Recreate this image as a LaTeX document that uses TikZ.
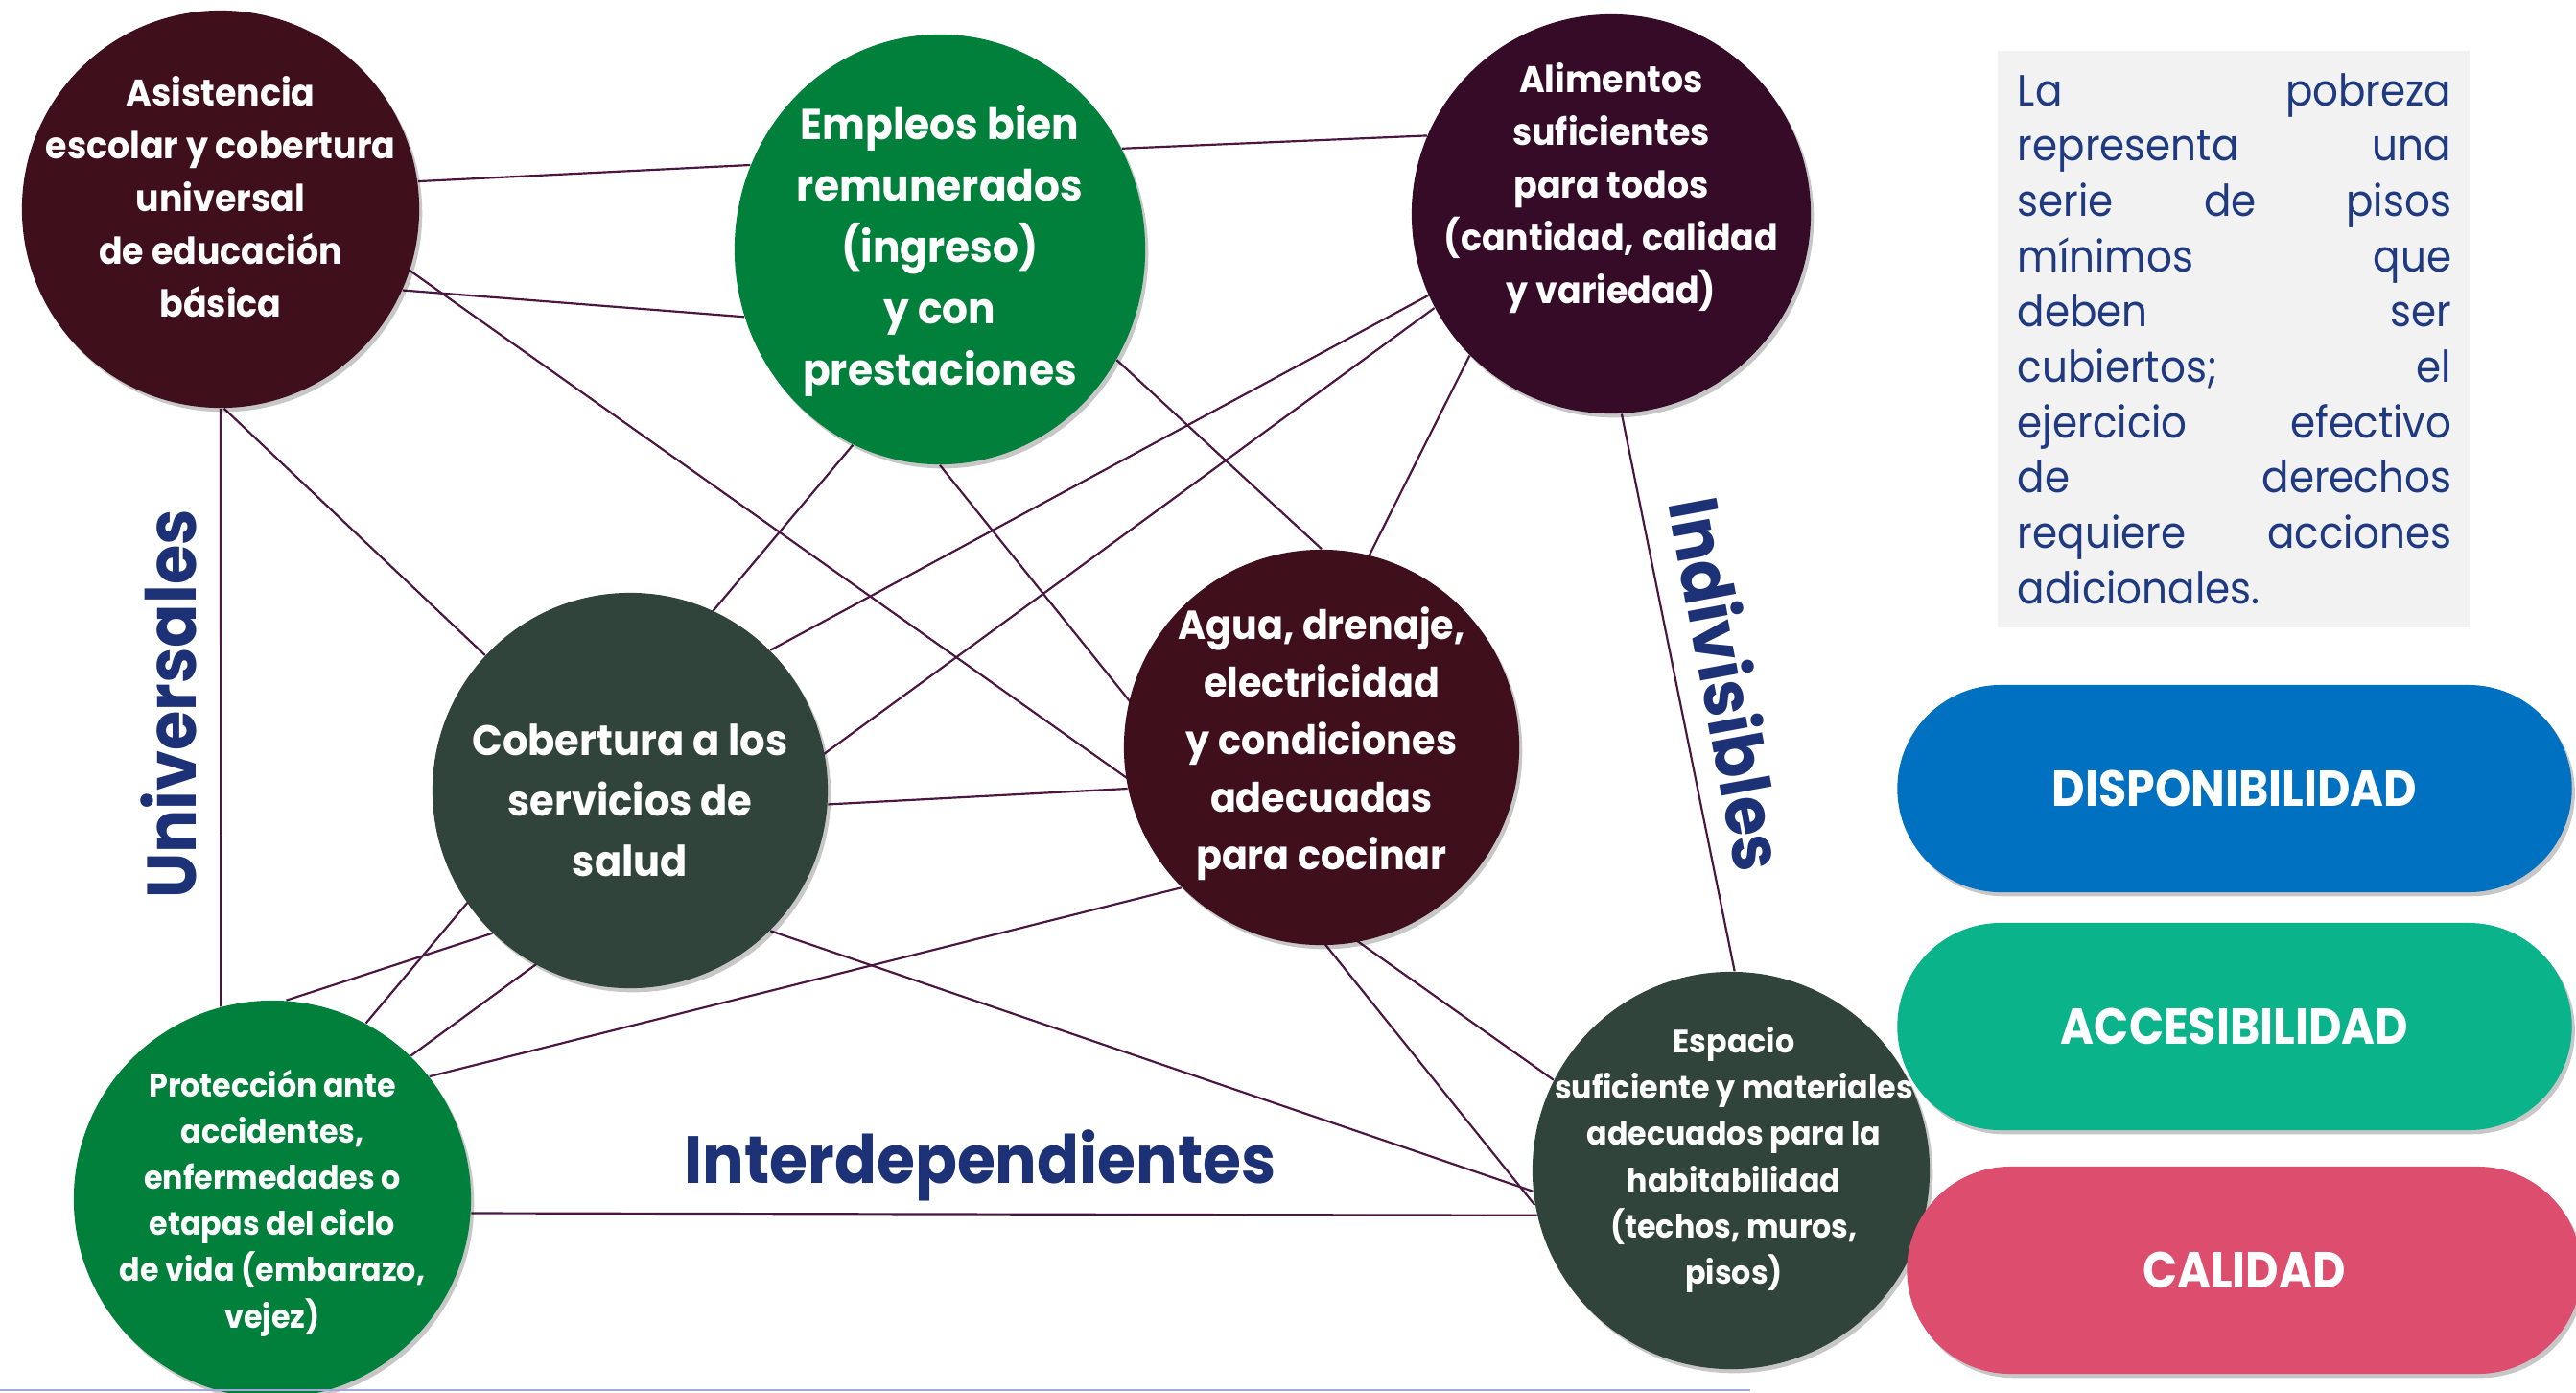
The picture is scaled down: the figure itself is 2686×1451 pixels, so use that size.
\documentclass[tikz,border=0pt]{standalone}
\usepackage{fontspec}
\setmainfont{Poppins}
\newfontfamily\circfont[FakeStretch=0.94]{Poppins}
\newfontfamily\labfont[FakeStretch=0.93]{Poppins}
\newfontfamily\boxfont[FakeStretch=0.92]{Poppins}
\newfontfamily\pillfont[FakeStretch=0.9]{Poppins}
\usetikzlibrary{shapes.geometric,shadows,backgrounds}
\definecolor{cMar}{HTML}{3F0F1B}
\definecolor{cGrn}{HTML}{00803A}
\definecolor{cPur}{HTML}{350B27}
\definecolor{cSla}{HTML}{30443B}
\definecolor{cLine}{HTML}{4B1742}
\definecolor{cNavy}{HTML}{1C3176}
\definecolor{cTxt}{HTML}{1F3A80}
\definecolor{cBox}{HTML}{F2F2F2}
\definecolor{cDisp}{HTML}{0070C0}
\definecolor{cAcc}{HTML}{0BB38A}
\definecolor{cCal}{HTML}{DC4D6E}
\definecolor{cRule}{HTML}{A3A8D8}
\tikzset{
  shad/.style={drop shadow={shadow xshift=0.9pt, shadow yshift=-1.2pt, opacity=0.22, fill=black}},
  bub/.style={circle, inner sep=0pt, minimum size=#1, shad},
  conn/.style={draw=cLine, line width=0.62pt},
  ctext/.style={text=white, align=center, inner sep=0pt},
  lab/.style={text=cNavy, inner sep=0pt, font=\labfont\bfseries\fontsize{20.5}{24}\selectfont},
  pill/.style={rectangle, rounded corners=1.08cm, minimum width=7.03cm, minimum height=2.16cm, inner sep=0pt, text=white, font=\pillfont\bfseries\fontsize{15}{18}\selectfont, shad}
}
\begin{document}
\begin{tikzpicture}[x=0.01cm,y=-0.01cm]
\useasboundingbox (0,0) rectangle (2686,1451);

% circles
\node[bub=4.14cm, fill=cMar] (A) at (230,218) {};
\node[ellipse, inner sep=0pt, minimum width=4.28cm, minimum height=4.48cm, fill=cGrn, shad] (B) at (980,260) {};
\node[bub=4.16cm, fill=cPur] (C) at (1680,223) {};
\node[bub=4.12cm, fill=cSla] (D) at (657,824) {};
\node[bub=4.12cm, fill=cMar] (E) at (1378,779) {};
\node[bub=4.14cm, fill=cGrn] (F) at (284,1250) {};
\node[bub=4.14cm, fill=cSla] (G) at (1805,1220) {};

% background and connectors (behind the circles)
\begin{scope}[on background layer]
\fill[white] (0,0) rectangle (2686,1451);
\draw[conn] (A.8) -- (B.156);
\draw[conn] (A.-24) -- (B.-161);
\draw[conn] (A.-18) -- (G.153);
\draw[conn] (A.-89) -- (D.137);
\draw[conn] (A.-90) -- (F.105);
\draw[conn] (B.29) -- (C.157);
\draw[conn] (B.-32) -- (E.90);
\draw[conn] (B.-90) -- (G.-170);
\draw[conn] (B.-114) -- (F.62);
\draw[conn] (C.-156) -- (D.45);
\draw[conn] (C.-152) -- (F.46);
\draw[conn] (C.-135) -- (E.76);
\draw[conn] (C.-87) -- (G.89);
\draw[conn] (D.-4) -- (E.-168);
\draw[conn] (D.-45) -- (G.-174);
\draw[conn] (F.86) -- (D.-134);
\draw[conn] (F.38) -- (E.-135);
\draw[conn] (F.-4) -- (G.-167);
\end{scope}

% circle texts
\node[ctext, font=\circfont\bfseries\fontsize{11}{15.6}\selectfont] (tA) at (230,205)
  {Asistencia\\escolar y cobertura\\universal\\de educación\\básica};
\node[ctext, font=\circfont\bfseries\fontsize{12.8}{18.2}\selectfont] (tB) at (980,261)
  {Empleos bien\\remunerados\\(ingreso)\\y con\\prestaciones};
\node[ctext, font=\circfont\bfseries\fontsize{11}{15.6}\selectfont] (tC) at (1680,196)
  {Alimentos\\suficientes\\para todos\\(cantidad, calidad\\y variedad)};
\node[ctext, font=\circfont\bfseries\fontsize{12.6}{17.9}\selectfont] (tD) at (657,834)
  {Cobertura a los\\servicios de\\salud};
\node[ctext, font=\circfont\bfseries\fontsize{12}{17.1}\selectfont] (tE) at (1378,775)
  {Agua, drenaje,\\electricidad\\y condiciones\\adecuadas\\para cocinar};
\node[ctext, font=\circfont\bfseries\fontsize{9.6}{13.7}\selectfont] (tF) at (284,1254)
  {Protección ante\\accidentes,\\enfermedades o\\etapas del ciclo\\de vida (embarazo,\\vejez)};
\node[ctext, font=\circfont\bfseries\fontsize{9.6}{13.7}\selectfont] (tG) at (1808,1209)
  {Espacio\\suficiente y materiales\\adecuados para la\\habitabilidad\\(techos, muros,\\pisos)};

% side labels
\node[lab, rotate=90] (uni) at (176,734) {Universales};
\node[lab, rotate=-79.5] (ind) at (1803,713) {Indivisibles};
\node[lab, font=\labfont\bfseries\fontsize{19.8}{24}\selectfont] (inter) at (1022,1215) {Interdependientes};

% text box
\node[fill=cBox, minimum width=4.92cm, minimum height=6.01cm, inner sep=0pt] (tbox) at (2329,353.5) {};
\node[text width=4.52cm, text=cTxt, inner sep=0pt, font=\boxfont\fontsize{13}{16.4}\selectfont] (ttext) at (2330,353)
  {La\hfill pobreza\\representa\hfill una\\serie\hfill de\hfill pisos\\mínimos\hfill que\\deben\hfill ser\\cubiertos;\hfill el\\ejercicio\hfill efectivo\\de\hfill derechos\\requiere\hfill acciones\\adicionales.};

% pills
\node[pill, fill=cDisp] (disp) at (2330,822) {DISPONIBILIDAD};
\node[pill, fill=cAcc] (acc) at (2330,1070) {ACCESIBILIDAD};
\node[pill, fill=cCal] (cal) at (2340,1324) {CALIDAD};

% bottom rule
\coordinate (r0) at (0,1449);
\coordinate (r1) at (1825,1449);
\draw[cRule, line width=0.6pt] (r0) -- (r1);
\end{tikzpicture}
\end{document}
